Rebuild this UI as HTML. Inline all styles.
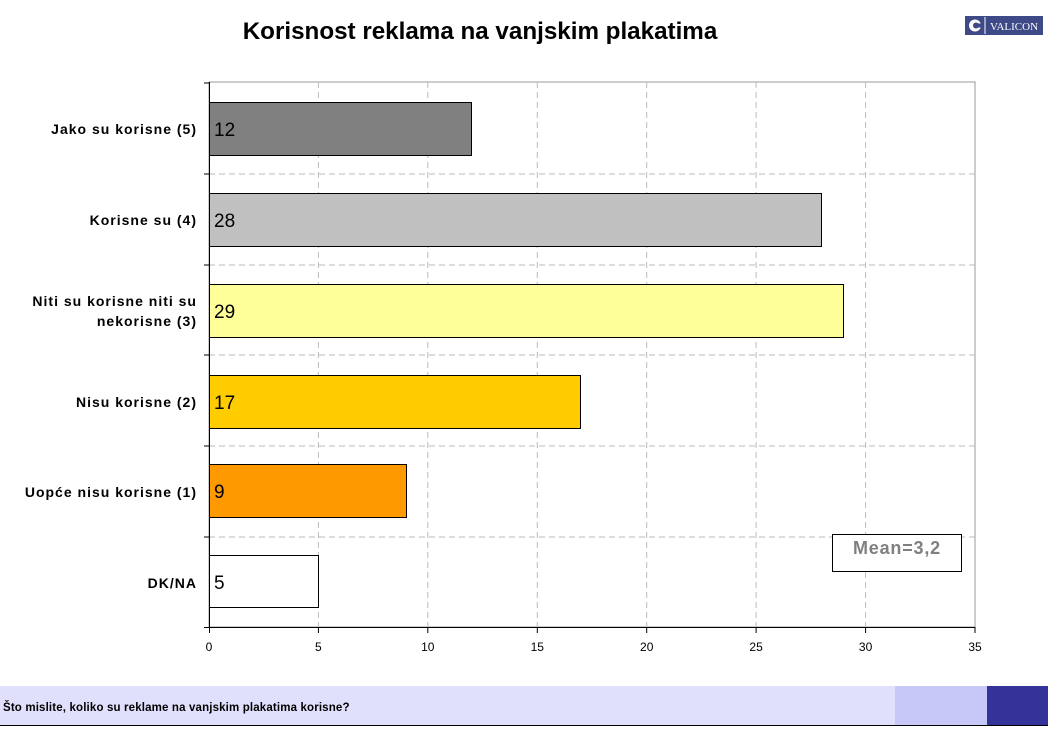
<!DOCTYPE html>
<html><head><meta charset="utf-8"><style>
body{margin:0;width:1048px;height:727px;background:#fff;overflow:hidden;font-family:"Liberation Sans",Arial,sans-serif;}
</style></head><body>
<svg width="1048" height="727" xmlns="http://www.w3.org/2000/svg" font-family="Liberation Sans, Arial, sans-serif">
<text x="480" y="39" font-size="24.2" font-weight="bold" text-anchor="middle">Korisnost reklama na vanjskim plakatima</text>
<rect x="965" y="16" width="78" height="19" fill="#3d4a87"/>
<circle cx="975" cy="25.5" r="6" fill="#fff"/><circle cx="976" cy="25.5" r="3" fill="#3d4a87"/><rect x="977" y="23.5" width="6" height="4" fill="#3d4a87"/>
<line x1="985" y1="17" x2="985" y2="34" stroke="#fff" stroke-width="1"/>
<text x="1014" y="30" font-size="11" fill="#fff" text-anchor="middle" font-family="Liberation Serif, serif">VALICON</text>
<rect x="209" y="82" width="766" height="545" fill="#fff" stroke="#999" stroke-width="1"/>
<g stroke="#bbb" stroke-dasharray="6,4" stroke-width="1">
<line x1="318.4" y1="82" x2="318.4" y2="627"/><line x1="427.8" y1="82" x2="427.8" y2="627"/>
<line x1="537.3" y1="82" x2="537.3" y2="627"/><line x1="646.7" y1="82" x2="646.7" y2="627"/>
<line x1="756.1" y1="82" x2="756.1" y2="627"/><line x1="865.6" y1="82" x2="865.6" y2="627"/>
<line x1="209" y1="174" x2="975" y2="174"/><line x1="209" y1="265" x2="975" y2="265"/>
<line x1="209" y1="355" x2="975" y2="355"/><line x1="209" y1="446" x2="975" y2="446"/>
<line x1="209" y1="537" x2="975" y2="537"/>
</g>
<g stroke="#000" stroke-width="1">
<rect x="209.5" y="102.5" width="262" height="53" fill="#808080"/>
<rect x="209.5" y="193.5" width="612" height="53" fill="#c0c0c0"/>
<rect x="209.5" y="284.5" width="634" height="53" fill="#ffff99"/>
<rect x="209.5" y="375.5" width="371" height="53" fill="#ffcc00"/>
<rect x="209.5" y="464.5" width="197" height="53" fill="#ff9900"/>
<rect x="209.5" y="555.5" width="109" height="52" fill="#fff"/>
<line x1="209.5" y1="82" x2="209.5" y2="627"/>
<line x1="204" y1="627.5" x2="975" y2="627.5"/>
<line x1="204" y1="83" x2="209" y2="83"/><line x1="204" y1="174" x2="209" y2="174"/><line x1="204" y1="265" x2="209" y2="265"/>
<line x1="204" y1="355" x2="209" y2="355"/><line x1="204" y1="446" x2="209" y2="446"/><line x1="204" y1="537" x2="209" y2="537"/>
<line x1="209.5" y1="627" x2="209.5" y2="633"/><line x1="318.4" y1="627" x2="318.4" y2="633"/><line x1="427.8" y1="627" x2="427.8" y2="633"/>
<line x1="537.3" y1="627" x2="537.3" y2="633"/><line x1="646.7" y1="627" x2="646.7" y2="633"/><line x1="756.1" y1="627" x2="756.1" y2="633"/>
<line x1="865.6" y1="627" x2="865.6" y2="633"/><line x1="975" y1="627" x2="975" y2="633"/>
</g>
<g font-size="19">
<text x="214" y="136">12</text><text x="214" y="227">28</text><text x="214" y="318">29</text>
<text x="214" y="409">17</text><text x="214" y="498">9</text><text x="214" y="589">5</text>
</g>
<g font-size="14" font-weight="bold" text-anchor="end" letter-spacing="1">
<text x="197" y="134">Jako su korisne (5)</text>
<text x="197" y="225">Korisne su (4)</text>
<text x="197" y="306">Niti su korisne niti su</text>
<text x="197" y="326">nekorisne (3)</text>
<text x="197" y="407">Nisu korisne (2)</text>
<text x="197" y="497">Uopće nisu korisne (1)</text>
<text x="197" y="588">DK/NA</text>
</g>
<g font-size="12" text-anchor="middle">
<text x="209" y="651">0</text><text x="318.4" y="651">5</text><text x="427.8" y="651">10</text><text x="537.3" y="651">15</text>
<text x="646.7" y="651">20</text><text x="756.1" y="651">25</text><text x="865.6" y="651">30</text><text x="975" y="651">35</text>
</g>
<rect x="832.5" y="534.5" width="129" height="37" fill="#fff" stroke="#000"/>
<text x="897" y="554" font-size="18" font-weight="bold" fill="#808080" text-anchor="middle" letter-spacing="0.8">Mean=3,2</text>
<rect x="0" y="686" width="895" height="39" fill="#e0e0fc"/>
<rect x="895" y="686" width="92" height="39" fill="#c8c8f8"/>
<rect x="987" y="686" width="61" height="39" fill="#333399"/>
<line x1="0" y1="725.5" x2="1048" y2="725.5" stroke="#000"/>
<text x="3" y="711" font-size="11.5" font-weight="bold" letter-spacing="0.15">Što mislite, koliko su reklame na vanjskim plakatima korisne?</text>
</svg>
</body></html>
